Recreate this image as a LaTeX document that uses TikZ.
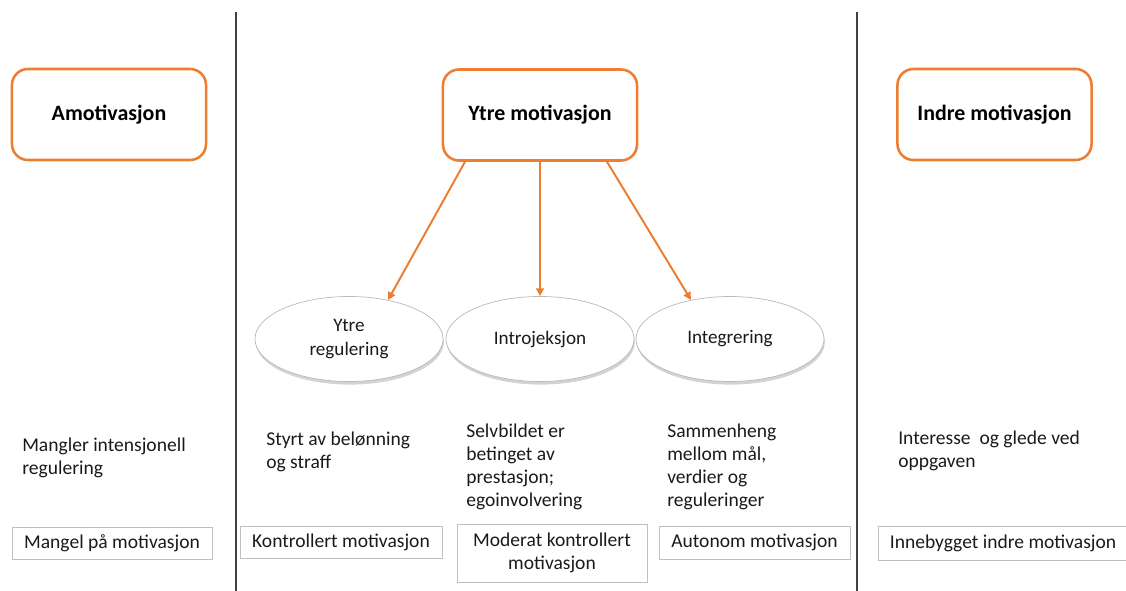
\documentclass[tikz,border=0pt]{standalone}
\usepackage{fontspec}
\setmainfont{Carlito}
\usetikzlibrary{arrows.meta,shapes.geometric,shadows,calc}
\definecolor{accent}{HTML}{ED7D31}
\definecolor{boxgray}{HTML}{BFBFBF}
\definecolor{txtgray}{HTML}{1A1A1A}
\tikzset{
  headbox/.style={draw=accent,line width=1.8pt,rounded corners=0.4cm,fill=white,
    minimum width=4.85cm,minimum height=2.275cm,font=\fontsize{15.6}{18}\selectfont\bfseries},
  stage/.style={ellipse,draw=gray!55,fill=white,line width=0.5pt,
    drop shadow={opacity=0.35,shadow xshift=0.6pt,shadow yshift=-2.2pt},
    minimum width=4.7cm,minimum height=2.125cm,inner sep=0pt,align=center,
    font=\fontsize{13.6}{16.4}\selectfont,text=txtgray},
  desc/.style={anchor=west,inner sep=0pt,align=left,text=txtgray,
    font=\fontsize{13.9}{16.4}\selectfont},
  kind/.style={draw=boxgray,line width=0.6pt,inner sep=0pt,align=center,text=txtgray,
    font=\fontsize{13.9}{16.4}\selectfont},
  link/.style={accent,line width=1.4pt,-{Triangle[length=5.5pt,width=5.5pt]}}
}
\begin{document}
\begin{tikzpicture}[x=0.025cm,y=-0.025cm]
  \useasboundingbox (0,0) rectangle (1126,591);
  \coordinate (lt) at (236,12);
  \coordinate (lb) at (236,591);
  \coordinate (rt) at (857,12);
  \coordinate (rb) at (857,591);
  \draw[black!75,line width=1pt] (lt) -- (lb);
  \draw[black!75,line width=1pt] (rt) -- (rb);

  \node[headbox] (amo) at (109,114.5) {Amotivasjon};
  \node[headbox] (ytre) at (540,115) {Ytre motivasjon};
  \node[headbox] (indre) at (994.5,114.5) {Indre motivasjon};

  \node[stage] (yreg) at (349,339) {Ytre\\regulering};
  \node[stage] (intro) at (540,339) {Introjeksjon};
  \node[stage] (integ) at (730,339) {Integrering};

  \draw[link] ($(ytre.south)+(-75,0)$) -- (yreg.45);
  \draw[link] (ytre.south) -- (intro.north);
  \draw[link] ($(ytre.south)+(67,0)$) -- (integ.135);

  \node[desc] (mangl) at (22,457.5) {Mangler intensjonell\\regulering};
  \node[desc] (styrt) at (266,451.5) {Styrt av belønning\\og straff};
  \node[desc] (selv) at (466,466.5) {Selvbildet er\\betinget av\\prestasjon;\\egoinvolvering};
  \node[desc] (samm) at (667,466.5) {Sammenheng\\mellom mål,\\verdier og\\reguleringer};
  \node[desc] (inter) at (898,451) {Interesse\ \ og glede ved\\oppgaven};

  \node[kind,minimum width=5cm,minimum height=0.8cm] (mang) at (112,543) {Mangel på motivasjon};
  \node[kind,minimum width=5.05cm,minimum height=0.78cm] (kontr) at (341,542.5) {Kontrollert motivasjon};
  \node[kind,minimum width=4.75cm,minimum height=1.45cm] (moder) at (552,553) {Moderat kontrollert\\motivasjon};
  \node[kind,minimum width=4.775cm,minimum height=0.825cm] (auton) at (754.5,542.5) {Autonom motivasjon};
  \node[kind,minimum width=6.25cm,minimum height=0.85cm] (inneb) at (1003,543) {Innebygget indre motivasjon};
\end{tikzpicture}
\end{document}
